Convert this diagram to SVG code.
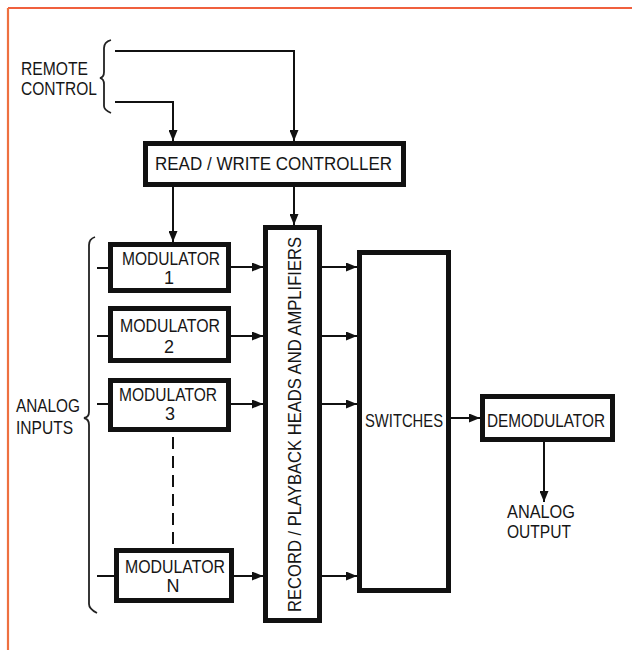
<svg xmlns="http://www.w3.org/2000/svg" width="632" height="650" viewBox="0 0 632 650">
<style>
.box{fill:#fff;stroke:#111;stroke-width:5}
.t{font-family:"Liberation Sans",Arial,sans-serif;font-size:18px;fill:#161616}
.c{fill:none;stroke:#111;stroke-width:2}
.br{fill:none;stroke:#222;stroke-width:1.8}
</style>
<defs>
<marker id="ah" markerUnits="userSpaceOnUse" markerWidth="11" markerHeight="9" refX="11" refY="4.5" orient="auto">
<path d="M0,0 L11,4.5 L0,9 z" fill="#111"/>
</marker>
</defs>
<rect width="632" height="650" fill="#fff"/>
<g id="frame">
<line x1="8" y1="8" x2="632" y2="8" stroke="#f0603e" stroke-width="2.2"/>
<line x1="8" y1="8" x2="8" y2="650" stroke="#ee7040" stroke-width="2.2"/>
</g>
<g id="remote-control">
<text class="t" x="21" y="75" textLength="67" lengthAdjust="spacingAndGlyphs">REMOTE</text>
<text class="t" x="21" y="95" textLength="76" lengthAdjust="spacingAndGlyphs">CONTROL</text>
<path class="br" d="M111,40 Q104,42 104,48 V72 Q104,77 100,78 Q104,79 104,84 V106 Q104,110 111,113"/>
</g>
<g id="analog-inputs">
<text class="t" x="16" y="412" textLength="64" lengthAdjust="spacingAndGlyphs">ANALOG</text>
<text class="t" x="16" y="434" textLength="57" lengthAdjust="spacingAndGlyphs">INPUTS</text>
<path class="br" d="M95,237 Q89,239 89,245 V412 Q89,417 84,418 Q89,419 89,425 V604 Q89,609 97,613"/>
</g>
<g id="controller">
<rect class="box" x="145.5" y="143.5" width="258" height="41"/>
<text class="t" x="155" y="170" textLength="237" lengthAdjust="spacingAndGlyphs">READ / WRITE CONTROLLER</text>
</g>
<g id="modulator-1">
<rect class="box" x="110.5" y="244.5" width="118" height="46"/>
<text class="t" x="122" y="265" textLength="98" lengthAdjust="spacingAndGlyphs">MODULATOR</text>
<text class="t" x="169" y="284" text-anchor="middle">1</text>
</g>
<g id="modulator-2">
<rect class="box" x="110.5" y="308.5" width="118" height="52"/>
<text class="t" x="120" y="332" textLength="100" lengthAdjust="spacingAndGlyphs">MODULATOR</text>
<text class="t" x="169" y="353" text-anchor="middle">2</text>
</g>
<g id="modulator-3">
<rect class="box" x="110.5" y="380.5" width="118" height="49"/>
<text class="t" x="119" y="401" textLength="98" lengthAdjust="spacingAndGlyphs">MODULATOR</text>
<text class="t" x="170" y="420" text-anchor="middle">3</text>
</g>
<g id="modulator-n">
<rect class="box" x="116.5" y="550.5" width="115" height="50"/>
<text class="t" x="125" y="573" textLength="100" lengthAdjust="spacingAndGlyphs">MODULATOR</text>
<text class="t" x="173" y="592" text-anchor="middle">N</text>
</g>
<g id="heads">
<rect class="box" x="265.5" y="227.5" width="54" height="393"/>
<text class="t" transform="translate(300.5,612) rotate(-90)" x="0" y="0" textLength="375" lengthAdjust="spacingAndGlyphs">RECORD / PLAYBACK HEADS AND AMPLIFIERS</text>
</g>
<g id="switches">
<rect class="box" x="359.5" y="252.5" width="89" height="338"/>
<text class="t" x="365" y="427" textLength="78" lengthAdjust="spacingAndGlyphs">SWITCHES</text>
</g>
<g id="demodulator">
<rect class="box" x="482.5" y="396.5" width="130" height="43"/>
<text class="t" x="487" y="427" textLength="118" lengthAdjust="spacingAndGlyphs">DEMODULATOR</text>
</g>
<g id="analog-output">
<text class="t" x="507" y="518" textLength="68" lengthAdjust="spacingAndGlyphs">ANALOG</text>
<text class="t" x="507" y="538" textLength="64" lengthAdjust="spacingAndGlyphs">OUTPUT</text>
</g>
<g id="connectors">
<path class="c" d="M115,51 H294 V141" marker-end="url(#ah)"/>
<path class="c" d="M115,102 H173 V141" marker-end="url(#ah)"/>
<path class="c" d="M173,187 V242" marker-end="url(#ah)"/>
<path class="c" d="M294,187 V225" marker-end="url(#ah)"/>
<path class="c" d="M97,268 H108"/>
<path class="c" d="M97,336 H108"/>
<path class="c" d="M97,404 H108"/>
<path class="c" d="M97,576 H114"/>
<path class="c" d="M231,267 H263" marker-end="url(#ah)"/>
<path class="c" d="M231,336 H263" marker-end="url(#ah)"/>
<path class="c" d="M231,404 H263" marker-end="url(#ah)"/>
<path class="c" d="M234,576 H263" marker-end="url(#ah)"/>
<path class="c" d="M322,267 H357" marker-end="url(#ah)"/>
<path class="c" d="M322,336 H357" marker-end="url(#ah)"/>
<path class="c" d="M322,404 H357" marker-end="url(#ah)"/>
<path class="c" d="M322,576 H357" marker-end="url(#ah)"/>
<path class="c" d="M451,418 H480" marker-end="url(#ah)"/>
<path class="c" d="M544,442 V502" marker-end="url(#ah)"/>
<path class="c" d="M173,437 V545" stroke-dasharray="12,7"/>
</g>
</svg>
